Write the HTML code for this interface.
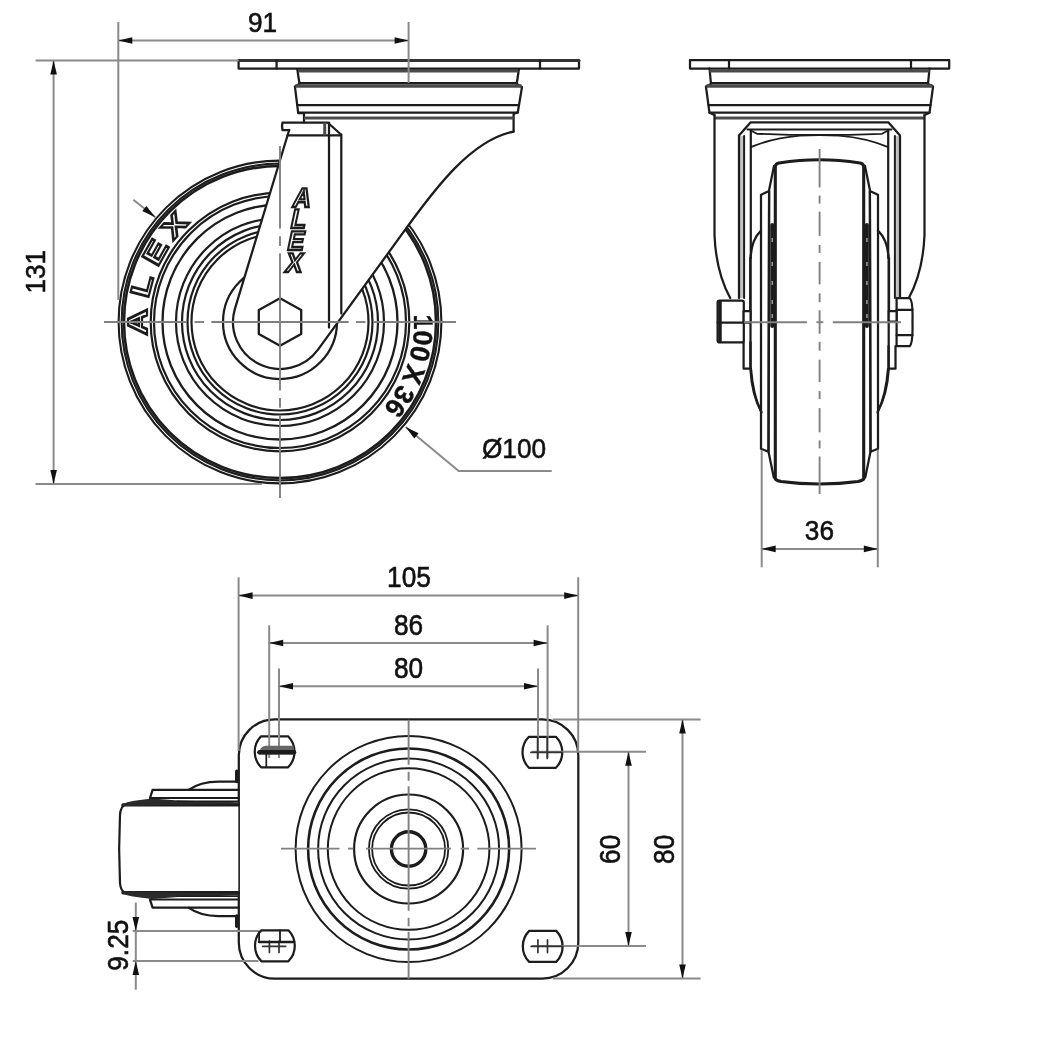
<!DOCTYPE html>
<html><head><meta charset="utf-8"><style>
html,body{margin:0;padding:0;background:#fff;}
svg{display:block;will-change:transform;}
.w{fill:#fff !important;}
.o{fill:none;stroke:#1c1c1c;stroke-width:2.25;stroke-linejoin:round;stroke-linecap:round;}
.g3{fill:none;stroke:#4a4a4a;stroke-width:3;}
.g35{fill:none;stroke:#4a4a4a;stroke-width:3.5;}
.d{fill:none;stroke:#8a8a8a;stroke-width:2;}
.c{fill:none;stroke:#808080;stroke-width:1.9;}
.ar{fill:#111;stroke:none;}
.tx{font-family:"Liberation Sans",sans-serif;fill:#111;stroke:#111;stroke-width:0.6;}
.olt{font-family:"Liberation Sans",sans-serif;font-weight:bold;fill:#fff;stroke:#1c1c1c;stroke-width:2.2;}
.olf{font-family:"Liberation Sans",sans-serif;font-weight:bold;fill:#fff;stroke:#1c1c1c;stroke-width:2.3;}
.wt{font-family:"Liberation Sans",sans-serif;font-weight:bold;fill:#111;stroke:#111;stroke-width:0.4;}
</style></head><body>
<svg width="1042" height="1060" viewBox="0 0 1042 1060">
<circle cx="280.00" cy="322.00" r="157.30" class="" style="fill:none;stroke:#999;stroke-width:3"/>
<circle cx="280.00" cy="322.00" r="161.40" class="o" style="stroke-width:2.1"/>
<circle cx="280.00" cy="322.00" r="158.40" class="o" style="stroke-width:2.0"/>
<circle cx="280.00" cy="322.00" r="156.00" class="o" style="stroke-width:2.5"/>
<circle cx="280.00" cy="322.00" r="129.30" class="o" style="stroke-width:2.2"/>
<circle cx="280.00" cy="322.00" r="126.00" class="o" style="stroke-width:2.2"/>
<circle cx="280.00" cy="322.00" r="117.50" class="o" style="stroke-width:2.3"/>
<circle cx="280.00" cy="322.00" r="104.00" class="o" style="stroke-width:2.2"/>
<circle cx="280.00" cy="322.00" r="98.00" class="o" style="stroke-width:2.2"/>
<circle cx="280.00" cy="322.00" r="92.50" class="o" style="stroke-width:2.2"/>
<circle cx="280.00" cy="322.00" r="88.50" class="o" style="stroke-width:2.2"/>
<circle cx="280.00" cy="322.00" r="57.00" class="o" />
<text x="0" y="0" font-size="27" text-anchor="middle" class="olt" transform="translate(146.50 322.00) rotate(270.00) scale(1.35,1)">A</text>
<text x="0" y="0" font-size="27" text-anchor="middle" class="olt" transform="translate(150.81 288.35) rotate(284.60) scale(1.35,1)">L</text>
<text x="0" y="0" font-size="27" text-anchor="middle" class="olt" transform="translate(163.46 256.87) rotate(299.20) scale(1.35,1)">E</text>
<text x="0" y="0" font-size="27" text-anchor="middle" class="olt" transform="translate(181.57 231.81) rotate(312.50) scale(1.35,1)">X</text>
<path id="arcR" d="M 413.7,312 A 134 134 0 0 1 380.5,411.4" fill="none" stroke="none"/>
<text font-size="27" class="wt" word-spacing="-3.5"><textPath href="#arcR" startOffset="2.5">100 X 36</textPath></text>
<path d="M289.2,130 L235.03,308.34 A47,47 0 0 0 318.01,349.64 L408.5,225.2 C432.2,193 470,140 513.6,131.6 L513.6,119 L304,119 L304,122.5 L282,122.5 L282,130 Z" fill="#fff" stroke="none"/>
<path d="M289.2,130 L235.03,308.34 A47,47 0 0 0 318.01,349.64 L408.5,225.2 C432.2,193 470,140 513.6,131.6" class="o"/>
<path d="M289.20,130.00 L282.50,130.00 L282.00,126.00 L282.50,122.50 L327.60,122.50 L341.00,134.50" class="o" />
<line x1="287.50" y1="135.40" x2="341.00" y2="135.40" class="o" />
<line x1="324.70" y1="122.50" x2="324.70" y2="135.40" class="g3" />
<line x1="329.00" y1="122.50" x2="329.00" y2="327.50" class="o" />
<line x1="341.30" y1="134.50" x2="341.30" y2="313.50" class="o" />
<line x1="304.00" y1="113.00" x2="304.00" y2="122.50" class="o" />
<path d="M297.20,68.50 L299.50,84.00 L294.90,86.40 L298.20,113.00 L304.10,113.00" class="o" />
<path d="M519.00,68.50 L516.70,84.00 L522.00,87.00 L517.80,112.30 L513.60,114.00 L513.60,131.60" class="o" />
<line x1="298.00" y1="71.00" x2="518.50" y2="71.00" class="g3" />
<line x1="299.50" y1="83.20" x2="516.70" y2="83.20" class="o" />
<line x1="295.50" y1="86.00" x2="521.50" y2="86.00" class="g35" />
<line x1="297.00" y1="105.00" x2="519.00" y2="105.00" class="o" />
<line x1="298.20" y1="112.60" x2="518.00" y2="112.60" class="o" />
<line x1="304.00" y1="118.00" x2="513.60" y2="118.00" class="g3" />
<rect x="238.6" y="60.6" width="340.4" height="7.9" class="o w"/>
<line x1="238.60" y1="60.40" x2="579.00" y2="60.40" class="o" style="stroke-width:3;stroke:#333"/>
<line x1="276.60" y1="60.60" x2="276.60" y2="68.50" class="o" />
<line x1="540.00" y1="60.60" x2="540.00" y2="68.50" class="o" />
<path d="M280.00,298.20 L301.20,310.00 L301.20,334.00 L280.00,345.80 L258.80,334.00 L258.80,310.00 Z" class="o" style="stroke-width:2.3"/>
<text x="0" y="0" font-size="27" text-anchor="middle" class="olf" transform="translate(300.5 207.4) skewX(-12) scale(0.92,1)">A</text>
<text x="0" y="0" font-size="27" text-anchor="middle" class="olf" transform="translate(297 228.1) skewX(-12) scale(0.92,1)">L</text>
<text x="0" y="0" font-size="27" text-anchor="middle" class="olf" transform="translate(294.5 249.8) skewX(-12) scale(0.92,1)">E</text>
<text x="0" y="0" font-size="27" text-anchor="middle" class="olf" transform="translate(292.5 272.3) skewX(-12) scale(0.92,1)">X</text>
<line x1="104.00" y1="322.00" x2="187.00" y2="322.00" class="c" />
<line x1="194.50" y1="322.00" x2="204.20" y2="322.00" class="c" />
<line x1="211.30" y1="322.00" x2="348.70" y2="322.00" class="c" />
<line x1="356.00" y1="322.00" x2="365.50" y2="322.00" class="c" />
<line x1="373.00" y1="322.00" x2="456.00" y2="322.00" class="c" />
<line x1="280.00" y1="146.00" x2="280.00" y2="228.60" class="c" />
<line x1="280.00" y1="236.20" x2="280.00" y2="246.00" class="c" />
<line x1="280.00" y1="253.20" x2="280.00" y2="390.60" class="c" />
<line x1="280.00" y1="398.00" x2="280.00" y2="407.80" class="c" />
<line x1="280.00" y1="415.40" x2="280.00" y2="498.00" class="c" />
<line x1="118.30" y1="22.00" x2="118.30" y2="300.00" class="d" />
<line x1="408.60" y1="22.00" x2="408.60" y2="83.00" class="d" />
<line x1="118.30" y1="40.50" x2="408.60" y2="40.50" class="d" />
<path d="M118.30,40.50 L132.30,37.20 L132.30,43.80 Z" class="ar"/>
<path d="M408.60,40.50 L394.60,43.80 L394.60,37.20 Z" class="ar"/>
<text x="0" y="0" font-size="28.5" text-anchor="middle" class="tx" transform="translate(262.50 32.20) scale(0.92,1)" >91</text>
<line x1="35.50" y1="60.60" x2="238.60" y2="60.60" class="d" />
<line x1="35.50" y1="484.00" x2="262.00" y2="484.00" class="d" />
<line x1="53.60" y1="60.60" x2="53.60" y2="484.00" class="d" />
<path d="M53.60,60.60 L56.90,74.60 L50.30,74.60 Z" class="ar"/>
<path d="M53.60,484.00 L50.30,470.00 L56.90,470.00 Z" class="ar"/>
<text x="0" y="0" font-size="28.5" text-anchor="middle" class="tx" transform="translate(45.30 271.70) rotate(-90) scale(0.92,1)" >131</text>
<path d="M405.70,426.90 L458.70,471.00 L551.70,471.00" class="d" />
<path d="M405.70,426.90 L418.57,433.32 L414.35,438.39 Z" class="ar"/>
<text x="0" y="0" font-size="28.5" text-anchor="middle" class="tx" transform="translate(514.00 458.00) scale(0.92,1)" >&#216;100</text>
<line x1="133.40" y1="199.80" x2="155.30" y2="217.20" class="d" />
<path d="M155.30,217.20 L142.29,211.07 L146.39,205.91 Z" class="ar"/>
<rect x="690" y="60.2" width="259.2" height="8.3" class="o w"/>
<line x1="729.00" y1="60.20" x2="729.00" y2="68.50" class="o" />
<line x1="911.00" y1="60.20" x2="911.00" y2="68.50" class="o" />
<path d="M709.50,68.50 L711.00,84.00 L705.90,86.40 L709.50,112.80 L714.50,115.00" class="o" />
<path d="M929.50,68.50 L928.00,84.00 L933.10,86.40 L929.50,112.80 L924.50,115.00" class="o" />
<line x1="709.50" y1="71.00" x2="929.50" y2="71.00" class="g3" />
<line x1="711.00" y1="83.20" x2="928.00" y2="83.20" class="o" />
<line x1="706.50" y1="86.00" x2="932.50" y2="86.00" class="g35" />
<line x1="708.50" y1="105.00" x2="930.50" y2="105.00" class="o" />
<line x1="709.50" y1="112.60" x2="929.50" y2="112.60" class="o" />
<line x1="714.50" y1="118.00" x2="924.50" y2="118.00" class="g3" />
<path d="M714.5,115 L714.5,235 Q716,272 730.2,298" class="o"/>
<path d="M924.5,115 L924.5,235 Q923,272 908.8,298" class="o"/>
<path d="M741.3,136 L741.3,298 M897.7,136 L897.7,298" style="fill:none;stroke:#c4c4c4;stroke-width:4.2"/>
<path d="M739,298 L739,135.5 L750.5,122.4 L888.5,122.4 L900,135.5 L900,298" class="o"/>
<line x1="744.10" y1="136.00" x2="744.10" y2="298.00" class="o" style="stroke-width:2"/>
<line x1="894.90" y1="136.00" x2="894.90" y2="298.00" class="o" style="stroke-width:2"/>
<path d="M750.8,258 L750.8,130.5 M888.2,258 L888.2,130.5" class="o" style="stroke-width:2.2"/>
<line x1="747.50" y1="129.60" x2="891.50" y2="129.60" class="o" style="stroke-width:2"/>
<path d="M750.8,130.5 L757,133.8 L790,134.8 L849,134.8 L882,133.8 L888.2,130.5" class="o" style="stroke-width:1.8"/>
<path d="M750.8,147.2 Q772,138 800,135.6 Q819.5,134.6 839,135.6 Q867,138 888.2,147.2" class="o" style="stroke-width:1.8"/>
<path d="M750.50,342.00 L750.50,368.70 L743.60,368.70 L743.60,342.00" class="o" />
<path d="M888.50,346.00 L888.50,368.70 L895.50,368.70 L895.50,346.00" class="o" />
<line x1="750.30" y1="258.00" x2="750.30" y2="311.00" class="o" />
<line x1="889.00" y1="258.00" x2="889.00" y2="311.00" class="o" />
<path d="M751,369 Q753,395 761.5,412.5" class="o"/>
<path d="M888,369 Q886,395 877.5,412.5" class="o"/>
<path d="M775.3,479 L775.3,166 Q776,163.5 779,163 Q800,159.8 819.5,159.8 Q839,159.8 860,163 Q863,163.5 863.7,166 L863.7,479 Q862.5,480.5 858,481.5 Q840,484 819.5,484 Q799,484 781,481.5 Q776.5,480.5 775.3,479 Z" class="o" style="stroke-width:3.1"/>
<path d="M774.00,166.00 L769.10,190.00 L768.50,451.70 L773.80,477.40" class="o" />
<path d="M865.00,166.00 L869.90,190.00 L870.50,451.70 L865.30,477.40" class="o" />
<path d="M769.10,191.00 L761.00,194.80 L761.00,448.70 L768.50,451.70 Z" class="o" />
<path d="M869.90,191.00 L878.00,194.80 L878.00,448.70 L870.50,451.70 Z" class="o" />
<path d="M761,230.6 Q751,240 750.5,259.6 L750.5,370 Q752,395 761,411" class="o"/>
<path d="M878,230.6 Q888,240 888.7,259.6 L888.7,370 Q887,395 878,411" class="o"/>
<line x1="866.90" y1="225.00" x2="866.90" y2="326.00" class="o" style="stroke-width:3.9"/>
<line x1="866.90" y1="238.00" x2="866.90" y2="242.00" class="" style="stroke:#bbb;stroke-width:1.2"/>
<line x1="866.90" y1="262.00" x2="866.90" y2="266.00" class="" style="stroke:#bbb;stroke-width:1.2"/>
<line x1="866.90" y1="281.00" x2="866.90" y2="285.00" class="" style="stroke:#bbb;stroke-width:1.2"/>
<line x1="866.90" y1="300.00" x2="866.90" y2="304.00" class="" style="stroke:#bbb;stroke-width:1.2"/>
<line x1="866.90" y1="314.00" x2="866.90" y2="318.00" class="" style="stroke:#bbb;stroke-width:1.2"/>
<line x1="772.20" y1="225.00" x2="772.20" y2="326.00" class="o" style="stroke-width:3.9"/>
<line x1="772.20" y1="238.00" x2="772.20" y2="242.00" class="" style="stroke:#bbb;stroke-width:1.2"/>
<line x1="772.20" y1="262.00" x2="772.20" y2="266.00" class="" style="stroke:#bbb;stroke-width:1.2"/>
<line x1="772.20" y1="281.00" x2="772.20" y2="285.00" class="" style="stroke:#bbb;stroke-width:1.2"/>
<line x1="772.20" y1="300.00" x2="772.20" y2="304.00" class="" style="stroke:#bbb;stroke-width:1.2"/>
<line x1="772.20" y1="314.00" x2="772.20" y2="318.00" class="" style="stroke:#bbb;stroke-width:1.2"/>
<rect x="717.6" y="300.6" width="26.2" height="41.8" rx="2" class="o w"/>
<line x1="720.00" y1="302.00" x2="720.00" y2="341.00" class="o" style="stroke-width:3.5"/>
<line x1="717.60" y1="322.50" x2="743.80" y2="322.50" class="o" />
<rect x="743.6" y="311" width="7" height="11.5" class="o w"/>
<path d="M896.6,298 L909.5,298 Q913,300 912.5,322 Q913,344 909.5,346.2 L896.6,346.2 Z" class="o w"/>
<line x1="896.60" y1="309.80" x2="912.50" y2="309.80" class="o" />
<line x1="896.60" y1="335.00" x2="912.50" y2="335.00" class="o" />
<rect x="888.7" y="311" width="7.9" height="10.7" class="o w"/>
<line x1="819.60" y1="149.00" x2="819.60" y2="187.50" class="c" />
<line x1="819.60" y1="195.60" x2="819.60" y2="203.60" class="c" />
<line x1="819.60" y1="211.70" x2="819.60" y2="235.90" class="c" />
<line x1="819.60" y1="244.90" x2="819.60" y2="252.90" class="c" />
<line x1="819.60" y1="261.90" x2="819.60" y2="284.30" class="c" />
<line x1="819.60" y1="293.30" x2="819.60" y2="302.20" class="c" />
<line x1="819.60" y1="310.30" x2="819.60" y2="333.70" class="c" />
<line x1="819.60" y1="341.80" x2="819.60" y2="350.70" class="c" />
<line x1="819.60" y1="359.70" x2="819.60" y2="382.10" class="c" />
<line x1="819.60" y1="391.10" x2="819.60" y2="399.10" class="c" />
<line x1="819.60" y1="408.10" x2="819.60" y2="432.30" class="c" />
<line x1="819.60" y1="440.40" x2="819.60" y2="448.40" class="c" />
<line x1="819.60" y1="456.50" x2="819.60" y2="494.00" class="c" />
<line x1="744.00" y1="322.20" x2="806.90" y2="322.20" class="c" />
<line x1="816.40" y1="322.20" x2="823.30" y2="322.20" class="c" />
<line x1="832.80" y1="322.20" x2="901.00" y2="322.20" class="c" />
<line x1="761.70" y1="449.80" x2="761.70" y2="567.30" class="d" />
<line x1="877.80" y1="449.80" x2="877.80" y2="567.30" class="d" />
<line x1="761.70" y1="548.90" x2="877.80" y2="548.90" class="d" />
<path d="M761.70,548.90 L775.70,545.60 L775.70,552.20 Z" class="ar"/>
<path d="M877.80,548.90 L863.80,552.20 L863.80,545.60 Z" class="ar"/>
<text x="0" y="0" font-size="28.5" text-anchor="middle" class="tx" transform="translate(819.40 540.40) scale(0.92,1)" >36</text>
<rect x="238.8" y="719.3" width="339.5" height="259.3" rx="36" ry="36" class="o w"/>
<circle cx="408.60" cy="849.00" r="113.00" class="o" style="stroke-width:2"/>
<circle cx="408.60" cy="849.00" r="100.50" class="o" style="stroke-width:2.6"/>
<circle cx="408.60" cy="849.00" r="90.50" class="o" style="stroke-width:2"/>
<circle cx="408.60" cy="849.00" r="80.80" class="o" style="stroke-width:2"/>
<circle cx="408.60" cy="849.00" r="54.50" class="o" style="stroke-width:2.2"/>
<circle cx="408.60" cy="849.00" r="39.70" class="o" style="stroke-width:1.8"/>
<circle cx="408.60" cy="849.00" r="36.50" class="o" style="stroke-width:1.8"/>
<circle cx="408.60" cy="849.00" r="17.20" class="o" style="stroke-width:3.4"/>
<path d="M261.10,736.30 L288.10,736.30 A22,22 0 0 1 288.10,767.30 L261.10,767.30 A22,22 0 0 1 261.10,736.30 Z" class="o w"/>
<path d="M528.90,736.80 L555.90,736.80 A22,22 0 0 1 555.90,767.80 L528.90,767.80 A22,22 0 0 1 528.90,736.80 Z" class="o w"/>
<path d="M261.40,930.30 L288.40,930.30 A22,22 0 0 1 288.40,961.30 L261.40,961.30 A22,22 0 0 1 261.40,930.30 Z" class="o w"/>
<path d="M529.20,930.90 L556.20,930.90 A22,22 0 0 1 556.20,961.90 L529.20,961.90 A22,22 0 0 1 529.20,930.90 Z" class="o w"/>
<line x1="281.00" y1="848.60" x2="339.50" y2="848.60" class="c" />
<line x1="348.00" y1="848.60" x2="353.50" y2="848.60" class="c" />
<line x1="366.00" y1="848.60" x2="451.00" y2="848.60" class="c" />
<line x1="460.60" y1="848.60" x2="469.00" y2="848.60" class="c" />
<line x1="477.30" y1="848.60" x2="536.00" y2="848.60" class="c" />
<line x1="408.60" y1="719.80" x2="408.60" y2="764.80" class="c" />
<line x1="408.60" y1="771.80" x2="408.60" y2="780.80" class="c" />
<line x1="408.60" y1="786.30" x2="408.60" y2="910.80" class="c" />
<line x1="408.60" y1="917.80" x2="408.60" y2="926.30" class="c" />
<line x1="408.60" y1="931.80" x2="408.60" y2="978.80" class="c" />
<path d="M238.3,804.5 L126,804.5 Q120.5,806 120,815 Q118.3,849 120,883 Q120.5,891.5 126,893.1 L238.3,893.1" class="o w" style="stroke-width:2.2"/>
<line x1="123.00" y1="804.90" x2="238.30" y2="804.90" class="o" style="stroke-width:3.4"/>
<path d="M121,806.00 Q124,801.50 140,800.00 L152,798.60 L178,800.60 L238.3,802.20 L238.3,804.00 L122,806.00 Z" style="fill:#2a2a2a;stroke:none"/>
<line x1="177.00" y1="801.30" x2="238.30" y2="801.30" class="o" style="stroke-width:1.4"/>
<path d="M238.30,789.90 L152.60,789.90 L150.00,798.00" class="o" />
<line x1="150.00" y1="798.00" x2="238.30" y2="798.00" class="o" style="stroke-width:2"/>
<path d="M188.6,789.90 Q200,781.50 218.6,781.50 L238.3,781.50" class="o"/>
<line x1="236.80" y1="771.40" x2="236.80" y2="781.50" class="o" style="stroke-width:3.6"/>
<line x1="123.00" y1="892.70" x2="238.30" y2="892.70" class="o" style="stroke-width:3.4"/>
<path d="M121,891.60 Q124,896.10 140,897.60 L152,899.00 L178,897.00 L238.3,895.40 L238.3,893.60 L122,891.60 Z" style="fill:#2a2a2a;stroke:none"/>
<line x1="177.00" y1="896.30" x2="238.30" y2="896.30" class="o" style="stroke-width:1.4"/>
<path d="M238.30,907.70 L152.60,907.70 L150.00,899.60" class="o" />
<line x1="150.00" y1="899.60" x2="238.30" y2="899.60" class="o" style="stroke-width:2"/>
<path d="M188.6,907.70 Q200,916.10 218.6,916.10 L238.3,916.10" class="o"/>
<line x1="236.80" y1="926.20" x2="236.80" y2="916.10" class="o" style="stroke-width:3.6"/>
<line x1="238.60" y1="577.30" x2="238.60" y2="751.00" class="d" />
<line x1="578.20" y1="577.30" x2="578.20" y2="751.00" class="d" />
<line x1="238.60" y1="595.60" x2="578.20" y2="595.60" class="d" />
<path d="M238.60,595.60 L252.60,592.30 L252.60,598.90 Z" class="ar"/>
<path d="M578.20,595.60 L564.20,598.90 L564.20,592.30 Z" class="ar"/>
<text x="0" y="0" font-size="29.5" text-anchor="middle" class="tx" transform="translate(409.00 587.10) scale(0.89,1)" >105</text>
<line x1="269.20" y1="625.30" x2="269.20" y2="758.00" class="d" />
<line x1="547.60" y1="625.30" x2="547.60" y2="758.00" class="d" />
<line x1="269.20" y1="643.00" x2="547.60" y2="643.00" class="d" />
<path d="M269.20,643.00 L283.20,639.70 L283.20,646.30 Z" class="ar"/>
<path d="M547.60,643.00 L533.60,646.30 L533.60,639.70 Z" class="ar"/>
<text x="0" y="0" font-size="29.5" text-anchor="middle" class="tx" transform="translate(408.60 634.70) scale(0.89,1)" >86</text>
<line x1="279.00" y1="668.40" x2="279.00" y2="758.00" class="d" />
<line x1="538.00" y1="668.40" x2="538.00" y2="758.00" class="d" />
<line x1="279.00" y1="686.30" x2="538.00" y2="686.30" class="d" />
<path d="M279.00,686.30 L293.00,683.00 L293.00,689.60 Z" class="ar"/>
<path d="M538.00,686.30 L524.00,689.60 L524.00,683.00 Z" class="ar"/>
<text x="0" y="0" font-size="29.5" text-anchor="middle" class="tx" transform="translate(408.60 677.60) scale(0.89,1)" >80</text>
<line x1="552.80" y1="719.40" x2="700.60" y2="719.40" class="d" />
<line x1="552.80" y1="978.60" x2="700.60" y2="978.60" class="d" />
<line x1="682.50" y1="719.40" x2="682.50" y2="978.60" class="d" />
<path d="M682.50,719.40 L685.80,733.40 L679.20,733.40 Z" class="ar"/>
<path d="M682.50,978.60 L679.20,964.60 L685.80,964.60 Z" class="ar"/>
<text x="0" y="0" font-size="29.5" text-anchor="middle" class="tx" transform="translate(673.60 849.30) rotate(-90) scale(0.89,1)" >80</text>
<line x1="531.70" y1="751.80" x2="646.00" y2="751.80" class="d" />
<line x1="531.70" y1="946.00" x2="646.00" y2="946.00" class="d" />
<line x1="628.50" y1="751.80" x2="628.50" y2="946.00" class="d" />
<path d="M628.50,751.80 L631.80,765.80 L625.20,765.80 Z" class="ar"/>
<path d="M628.50,946.00 L625.20,932.00 L631.80,932.00 Z" class="ar"/>
<text x="0" y="0" font-size="29.5" text-anchor="middle" class="tx" transform="translate(619.60 849.30) rotate(-90) scale(0.89,1)" >60</text>
<line x1="132.80" y1="930.90" x2="258.40" y2="930.90" class="d" />
<line x1="132.80" y1="961.00" x2="258.40" y2="961.00" class="d" />
<line x1="135.80" y1="902.60" x2="135.80" y2="989.70" class="d" />
<path d="M135.80,930.90 L132.50,916.90 L139.10,916.90 Z" class="ar"/>
<path d="M135.80,961.00 L139.10,975.00 L132.50,975.00 Z" class="ar"/>
<text x="0" y="0" font-size="29.5" text-anchor="middle" class="tx" transform="translate(127.80 945.20) rotate(-90) scale(0.89,1)" >9.25</text>
<path d="M258.8,754.6 Q259.5,746.2 265.5,745.8 L293.6,745.8 L294.2,754.6 Z" style="fill:#666;stroke:none"/>
<line x1="259.50" y1="752.20" x2="294.00" y2="752.20" class="o" style="stroke-width:4.6"/>
<line x1="266.30" y1="754.00" x2="266.30" y2="767.00" class="o" style="stroke-width:1.7"/>
<line x1="537.60" y1="737.30" x2="537.60" y2="758.50" class="o" style="stroke-width:1.7;stroke:#333"/>
<line x1="547.20" y1="737.30" x2="547.20" y2="758.50" class="o" style="stroke-width:1.7;stroke:#333"/>
<line x1="530.90" y1="752.30" x2="562.40" y2="752.30" class="o" style="stroke-width:1.7;stroke:#333"/>
<line x1="537.90" y1="939.90" x2="537.90" y2="952.60" class="o" style="stroke-width:1.7;stroke:#333"/>
<line x1="547.50" y1="939.90" x2="547.50" y2="952.60" class="o" style="stroke-width:1.7;stroke:#333"/>
<line x1="531.20" y1="946.40" x2="562.70" y2="946.40" class="o" style="stroke-width:1.7;stroke:#333"/>
<line x1="269.40" y1="941.00" x2="269.40" y2="952.50" class="o" style="stroke-width:1.7;stroke:#333"/>
<line x1="279.00" y1="941.00" x2="279.00" y2="952.50" class="o" style="stroke-width:1.7;stroke:#333"/>
<line x1="262.70" y1="946.30" x2="285.70" y2="946.30" class="o" style="stroke-width:1.7;stroke:#333"/>
<line x1="259.10" y1="942.00" x2="293.00" y2="942.00" class="o" style="stroke-width:2.6"/>
<line x1="280.00" y1="930.50" x2="280.00" y2="942.00" class="o" style="stroke-width:1.8"/>
<line x1="259.10" y1="931.50" x2="259.10" y2="942.00" class="o" style="stroke-width:1.8"/>
</svg>
</body></html>
